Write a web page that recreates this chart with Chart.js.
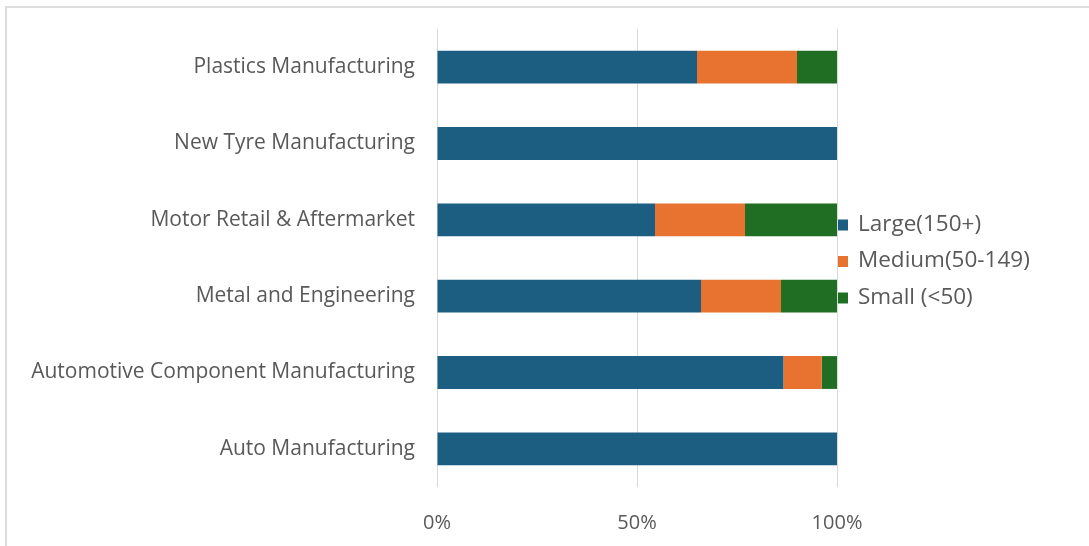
<!DOCTYPE html>
<html>
<head>
<meta charset="utf-8">
<script src="https://cdn.jsdelivr.net/npm/chart.js@4.4.1/dist/chart.umd.min.js"></script>
<style>
  html, body { margin: 0; padding: 0; background: #ffffff; }
  #wrap { position: relative; width: 1089px; height: 546px; overflow: hidden; }
  #frame { position: absolute; left: 5px; top: 6px; width: 1200px; height: 600px;
           border-left: 2px solid #dcdcdc; border-top: 2px solid #dcdcdc; box-sizing: border-box; }
  canvas { position: absolute; left: 0; top: 0; }
</style>
</head>
<body>
<div id="wrap">
  <div id="frame"></div>
  <canvas id="c" width="1089" height="546"></canvas>
</div>
<script>
const categories = [
  "Plastics Manufacturing",
  "New Tyre Manufacturing",
  "Motor Retail & Aftermarket",
  "Metal and Engineering",
  "Automotive Component Manufacturing",
  "Auto Manufacturing"
];
const seriesNames = ["Large(150+)", "Medium(50-149)", "Small (<50)"];
const largeValues  = [65, 100, 54.5, 66, 86.6, 100];
const mediumValues = [25, 0, 22.5, 20, 9.6, 0];
const smallValues  = [10, 0, 23, 14, 3.8, 0];
const xTickValues = [0, 50, 100];

const colors = ["#1b5e82", "#e8722f", "#1f6e24"];
const textColor = "#595959";
const fontFamily = "'Open Sans', 'Noto Sans', sans-serif";

const legendPlugin = {
  id: 'customLegend',
  afterDraw(chart) {
    const ctx = chart.ctx;
    ctx.save();
    ctx.font = "22.5px " + fontFamily;
    ctx.textBaseline = 'middle';
    ctx.textAlign = 'left';
    const x0 = 838, y0 = 224.5, gap = 36.5;
    chart.data.datasets.forEach((ds, i) => {
      const y = y0 + i * gap;
      ctx.fillStyle = ds.backgroundColor;
      ctx.fillRect(x0, y - 5, 10, 11);
      ctx.fillStyle = textColor;
      ctx.fillText(ds.label, x0 + 20, y);
    });
    ctx.restore();
  }
};

new Chart(document.getElementById('c'), {
  type: 'bar',
  data: {
    labels: categories,
    datasets: [
      { label: seriesNames[0], data: largeValues,  backgroundColor: colors[0] },
      { label: seriesNames[1], data: mediumValues, backgroundColor: colors[1] },
      { label: seriesNames[2], data: smallValues,  backgroundColor: colors[2] }
    ]
  },
  options: {
    indexAxis: 'y',
    responsive: false,
    animation: false,
    maintainAspectRatio: false,
    layout: { padding: { left: 0, right: 252, top: 29, bottom: 0 } },
    datasets: { bar: { categoryPercentage: 1, barPercentage: 0.43 } },
    plugins: { legend: { display: false }, tooltip: { enabled: false } },
    scales: {
      x: {
        stacked: true, min: 0, max: 100,
        afterBuildTicks(scale) { scale.ticks = xTickValues.map(v => ({ value: v })); },
        afterFit(scale) { scale.height = 59; scale.paddingLeft = 0; scale.paddingRight = 0; },
        grid: { color: "#d9d9d9", lineWidth: 1, drawTicks: false },
        border: { display: false },
        ticks: { color: textColor, padding: 24, font: { size: 20, family: fontFamily },
                 callback: v => v + "%" }
      },
      y: {
        stacked: true,
        afterFit(scale) { scale.width = 437; scale.paddingTop = 0; scale.paddingBottom = 0; },
        grid: { display: false, drawTicks: false },
        border: { display: false },
        ticks: { color: textColor, padding: 22, font: { size: 21, family: fontFamily } }
      }
    }
  },
  plugins: [legendPlugin]
});
</script>
</body>
</html>
